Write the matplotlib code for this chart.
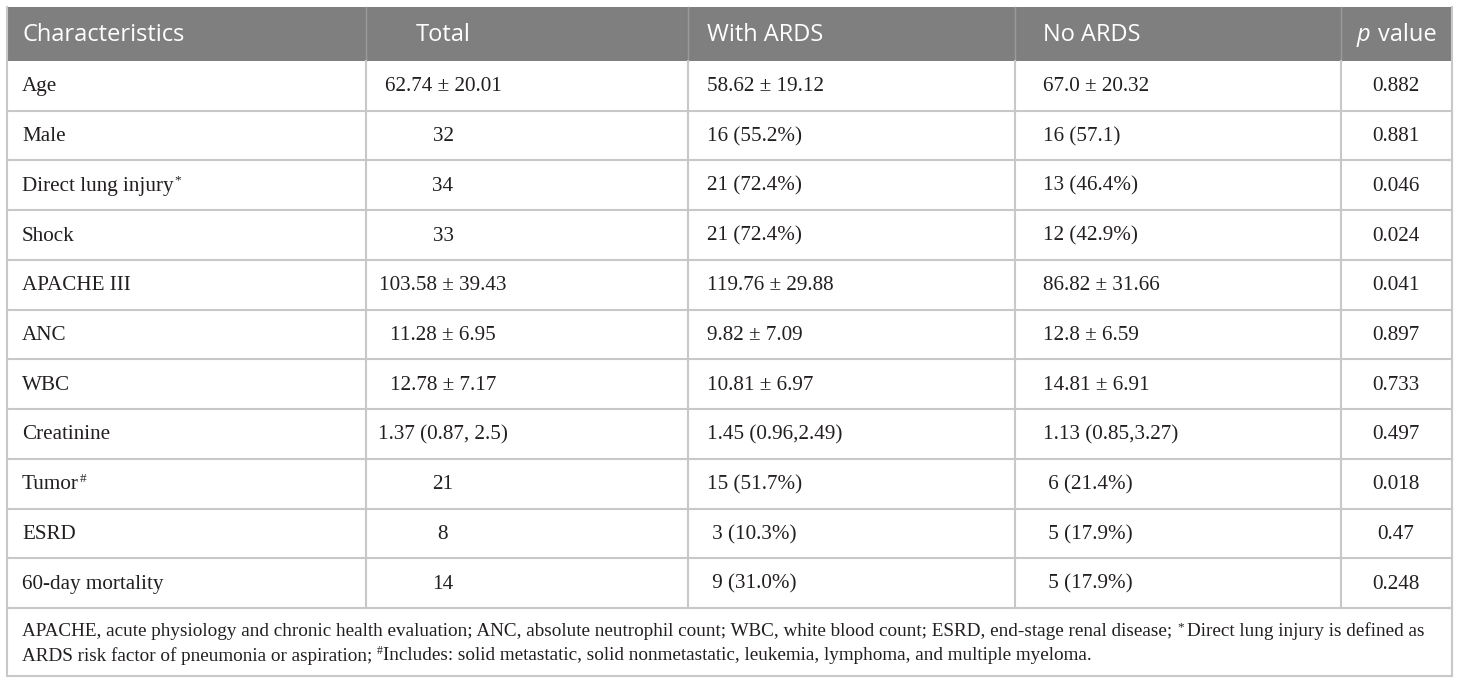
import matplotlib.pyplot as plt
from matplotlib.patches import Rectangle

headers = ["Characteristics", "Total", "With ARDS", "No ARDS", "value"]
characteristics = ["Age", "Male", "Direct lung injury", "Shock", "APACHE III", "ANC",
                   "WBC", "Creatinine", "Tumor", "ESRD", "60-day mortality"]
marks = ["", "", "*", "", "", "", "", "", "#", "", ""]
total = ["62.74 ± 20.01", "32", "34", "33", "103.58 ± 39.43", "11.28 ± 6.95",
         "12.78 ± 7.17", "1.37 (0.87, 2.5)", "21", "8", "14"]
with_ards = ["58.62 ± 19.12", "16 (55.2%)", "21 (72.4%)", "21 (72.4%)", "119.76 ± 29.88",
             "9.82 ± 7.09", "10.81 ± 6.97", "1.45 (0.96,2.49)", "15 (51.7%)",
             " 3 (10.3%)", " 9 (31.0%)"]
no_ards = ["67.0 ± 20.32", "16 (57.1)", "13 (46.4%)", "12 (42.9%)", "86.82 ± 31.66",
           "12.8 ± 6.59", "14.81 ± 6.91", "1.13 (0.85,3.27)", " 6 (21.4%)",
           " 5 (17.9%)", " 5 (17.9%)"]
p_values = ["0.882", "0.881", "0.046", "0.024", "0.041", "0.897", "0.733", "0.497",
            "0.018", "0.47", "0.248"]
note_1 = ("APACHE, acute physiology and chronic health evaluation; ANC, absolute neutrophil count; "
          "WBC, white blood count; ESRD, end-stage renal disease;")
note_1b = "Direct lung injury is defined as"
note_2a = "ARDS risk factor of pneumonia or aspiration; "
note_2b = ("Includes: solid metastatic, solid nonmetastatic, leukemia, lymphoma, "
           "and multiple myeloma.")

serif = "Liberation Serif"
sans = "Open Sans"
grid = "#c8c8c8"
head_bg = "#7f7f7f"
ink = "#231f20"
fs = 15.2
fs_note = 13.8

fig = plt.figure(figsize=(14.6, 6.84), dpi=100)
ax = fig.add_axes([0, 0, 1, 1])
ax.set_xlim(0, 1460)
ax.set_ylim(684, 0)
ax.axis("off")

left, right = 7, 1452
cols = [7, 366, 688, 1015, 1341, 1452]
top, head_bot = 7, 61
row_h = (608 - head_bot) / len(characteristics)
note_bot = 676

# header
ax.add_patch(Rectangle((left, top), right - left, head_bot - top, color=head_bg, lw=0))
for x in cols[1:-1]:
    ax.plot([x, x], [top, head_bot], color="#9a9a9a", lw=1)
hy = (top + head_bot) / 2 + 1
ax.text(22, hy, headers[0], family=sans, fontsize=17, color="white", va="center")
ax.text(443, hy, headers[1], family=sans, fontsize=17, color="white", va="center", ha="center")
ax.text(707, hy, headers[2], family=sans, fontsize=17, color="white", va="center")
ax.text(1043, hy, headers[3], family=sans, fontsize=17, color="white", va="center")
ax.text(1378, hy, headers[4], family=sans, fontsize=17, color="white", va="center", ha="left")
ax.text(1376, hy, "p ", family=sans, fontsize=17, color="white", va="center", ha="right",
        style="italic")

renderer = fig.canvas.get_renderer()

# body rows
for i, name in enumerate(characteristics):
    y0 = head_bot + i * row_h
    yc = y0 + row_h / 2 + 1
    ax.plot([left, right], [y0 + row_h, y0 + row_h], color=grid, lw=1.5)
    t = ax.text(22, yc, name, family=serif, fontsize=fs, color=ink, va="center")
    if marks[i]:
        bb = t.get_window_extent(renderer=renderer)
        ax.text(bb.x1 + 1, yc - 6, marks[i], family=serif, fontsize=9.5,
                color=ink, va="center")
    ax.text(443, yc, total[i], family=serif, fontsize=fs, color=ink,
            va="center", ha="center")
    ax.text(707, yc, with_ards[i], family=serif, fontsize=fs, color=ink, va="center")
    ax.text(1043, yc, no_ards[i], family=serif, fontsize=fs, color=ink, va="center")
    ax.text(1396, yc, p_values[i], family=serif, fontsize=fs, color=ink,
            va="center", ha="center")

for x in cols[1:-1]:
    ax.plot([x, x], [head_bot, 608], color=grid, lw=1.5)

# outer borders
ax.plot([left, left], [top, note_bot], color=grid, lw=1.5)
ax.plot([right, right], [top, note_bot], color=grid, lw=1.5)
ax.plot([left, right], [note_bot, note_bot], color=grid, lw=1.5)

# footnote
t1 = ax.text(22, 631, note_1, family=serif, fontsize=fs_note, color=ink, va="center")
bb = t1.get_window_extent(renderer=renderer)
ax.text(bb.x1 + 5, 627, "*", family=serif, fontsize=9.5, color=ink, va="center")
ax.text(bb.x1 + 15, 631, note_1b, family=serif, fontsize=fs_note, color=ink, va="center")
t2 = ax.text(22, 656, note_2a, family=serif, fontsize=fs_note, color=ink, va="center")
bb = t2.get_window_extent(renderer=renderer)
ax.text(bb.x1, 651, "#", family=serif, fontsize=8.5, color=ink, va="center")
ax.text(bb.x1 + 6, 656, note_2b, family=serif, fontsize=fs_note, color=ink, va="center")

fig.savefig("out.png", dpi=100)
